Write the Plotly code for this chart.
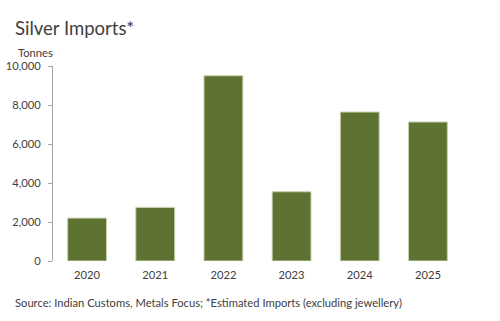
import plotly.graph_objects as go

years = ["2020", "2021", "2022", "2023", "2024", "2025"]
imports_t = [2200, 2750, 9500, 3550, 7640, 7130]
y_ticks = [0, 2000, 4000, 6000, 8000, 10000]
y_tick_labels = ["0", "2,000", "4,000", "6,000", "8,000", "10,000"]

FONT = "Lato, 'Open Sans', sans-serif"
TXT = "#404040"

fig = go.Figure(go.Bar(
    x=years, y=imports_t,
    marker=dict(color="#5e7332", line=dict(color="#c9d2ad", width=1)),
))

fig.update_layout(
    width=500, height=321,
    margin=dict(l=53, r=38, t=66, b=60, autoexpand=False),
    paper_bgcolor="white", plot_bgcolor="white",
    bargap=0.43,
    showlegend=False,
    font=dict(family=FONT, color=TXT, size=11),
    title=dict(text="Silver Imports*", x=0.03, xanchor="left", y=0.91, yanchor="middle",
               font=dict(size=18.5, color=TXT, family=FONT)),
    xaxis=dict(showline=False, ticks="", tickfont=dict(size=11.2, color=TXT), showgrid=False,
               ticklabelstandoff=6, automargin=False),
    yaxis=dict(range=[0, 10000], tickvals=y_ticks, ticktext=y_tick_labels,
               showline=True, linecolor="#a6a6a6", linewidth=1, ticks="outside",
               ticklen=4, tickcolor="#a6a6a6", showgrid=False, zeroline=False,
               ticklabelstandoff=5, automargin=False,
               tickfont=dict(size=11.2, color=TXT)),
    annotations=[
        dict(text="Tonnes", xref="paper", yref="paper", x=-0.043, y=1.0, yshift=14,
             xanchor="center", yanchor="middle", showarrow=False,
             font=dict(size=11.2, color=TXT)),
        dict(text="Source: Indian Customs, Metals Focus; *Estimated Imports (excluding jewellery)",
             xref="paper", yref="paper", x=-0.098, y=0, yshift=-41,
             xanchor="left", yanchor="middle", showarrow=False,
             font=dict(size=11.2, color=TXT)),
    ],
)

fig.write_html("out.html")
